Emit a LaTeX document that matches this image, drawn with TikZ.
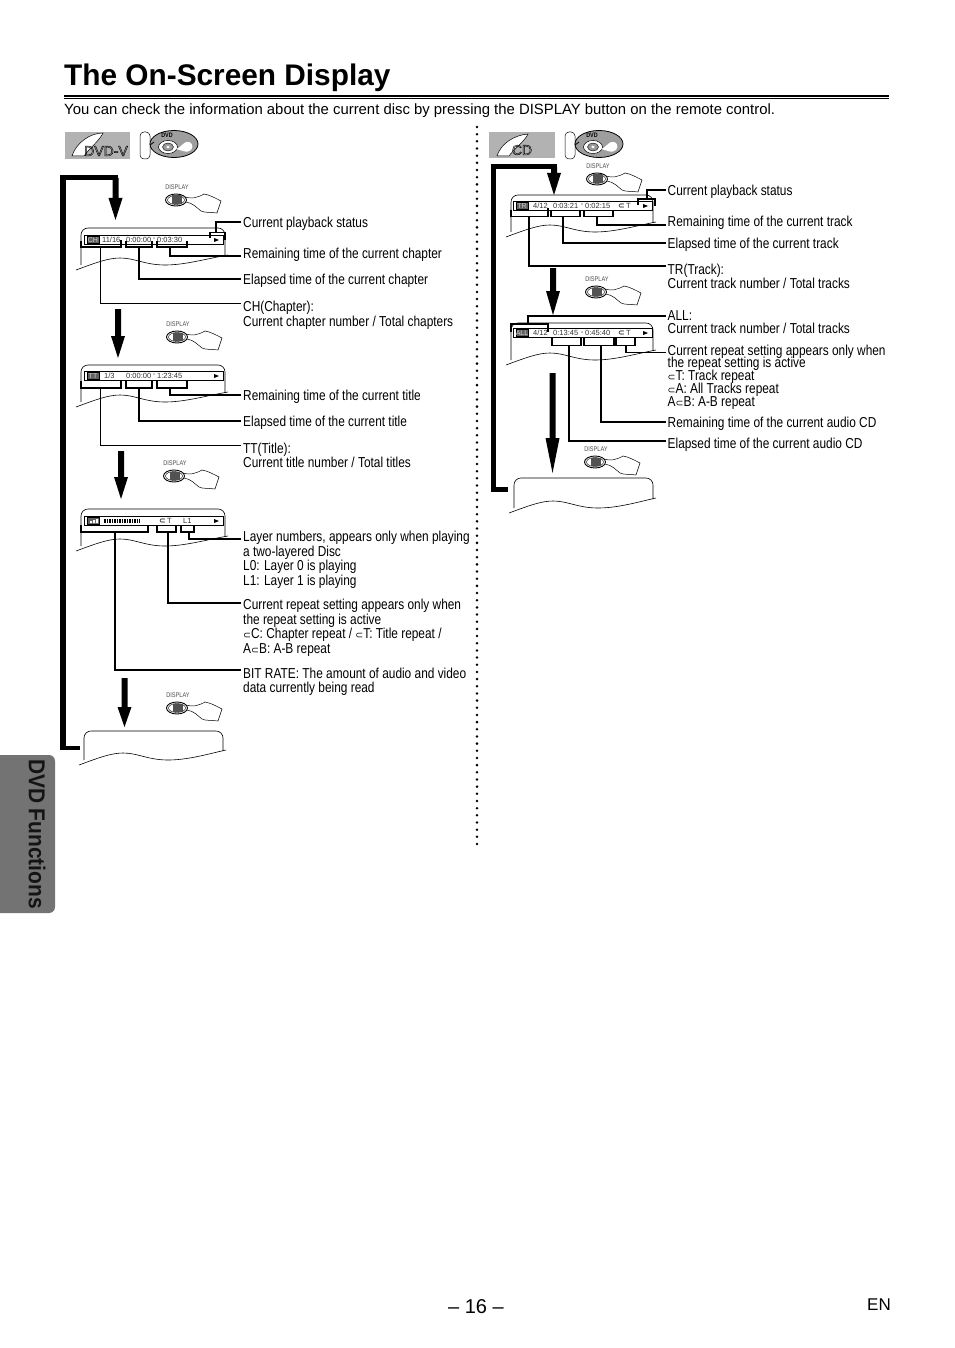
\documentclass[tikz,border=0pt]{standalone}
\usepackage{fontspec}
\setmainfont{Liberation Sans}
\newfontfamily\labelfont[FakeStretch=0.825]{Liberation Sans}
\newfontfamily\tabfont[FakeStretch=0.91]{Liberation Sans}
\newfontfamily\symfont{DejaVu Sans}
\usetikzlibrary{calc}
\def\rpt{{\symfont\fontsize{9.5}{8}\selectfont ⊂}}
\def\rptsm{{\symfont\bfseries\fontsize{8}{8}\selectfont ⊂}}
\def\hollow#1{\special{pdf:code 1 Tr 0.45 w}#1\special{pdf:code 0 Tr}}
\tikzset{
	lbl/.style={anchor=west, yshift=-1.5pt, inner xsep=2pt, inner ysep=0pt, align=left, font=\labelfont\fontsize{14.4}{14.6}\selectfont},
	lblm/.style={lbl, anchor=north west},
	lead/.style={line width=1.3pt},
	thinlead/.style={line width=0.9pt},
	brk/.style={line width=1.3pt},
	osd/.style={inner sep=0pt, font=\fontsize{7.5}{8}\selectfont, text=black!80},
	osdtag/.style={inner sep=0pt, font=\fontsize{7}{8}\selectfont, text=black!20},
	disp/.style={inner sep=0pt, font=\labelfont\fontsize{6.8}{7}\selectfont, text=black!70}
}
% screen outline, x0 and top, width, height of the left side
\def\osdshape(#1,#2,#3,#4){
	\begin{scope}[shift={(#1,#2)}]
		\draw[line width=0.6pt, rounded corners=7pt] (0, #4) -- (0, 0) -- (#3, 0) -- (#3, #4-9);
		\draw[line width=0.6pt] (-5, #4+5) .. controls (14, #4-2) and (27, #4-7) .. (39, #4-7) .. controls (54, #4-7) and (64, #4) .. (84, #4) .. controls (104, #4) and (124, #4-6) .. (#3+3, #4-10);
	\end{scope}
}
% text bar inside the screen
\def\osdbar(#1,#2,#3,#4){
	\draw[line width=0.7pt, fill=white] (#1, #2) rectangle (#3, #2+9.5);
	\draw[fill=black!62, draw=black] (#1+3, #2+1.5) rectangle (#1+15, #2+8);
	\node[osdtag] (#4) at (#1+9, #2+4.8) {#4};
	\fill[black] (#3-9, #2+3) -- (#3-4, #2+5) -- (#3-9, #2+7) -- cycle;
}
% thick down arrow: x, shaft start, head start, tip
\def\bigarr(#1,#2,#3,#4){
	\fill[black] (#1-3, #2) -- (#1+3, #2) -- (#1+3, #3) -- (#1+7, #3) -- (#1, #4) -- (#1-7, #3) -- (#1-3, #3) -- cycle;
}
% hand on the display button, x y of the word
\def\pressbtn(#1,#2,#3){
	\begin{scope}[shift={(#1,#2)}]
		\node[disp] (#3) at (0, 0) {DISPLAY};
		\draw[line width=0.5pt] (8, 10) .. controls (14, 12) and (20, 11) .. (27, 7) .. controls (33, 8) and (38, 11) .. (44, 14) -- (40, 26) .. controls (34, 25) and (28, 26) .. (24, 24) .. controls (20, 21) and (16, 16) .. (9, 15);
		\draw[line width=0.9pt, fill=white] (-1, 13) ellipse (10.5 and 6);
		\draw[line width=0.4pt] (-1, 13) ellipse (8.5 and 4.5);
		\fill[black!68] (-5, 8.5) rectangle (5, 17);
	\end{scope}
}
% remote with the disc mark
\def\discicon(#1,#2){
	\begin{scope}[shift={(#1,#2)}]
		\draw[line width=0.5pt, rounded corners=4pt] (0, 0) rectangle (10, 27);
		\draw[line width=0.8pt, fill=black!38] (34, 12) ellipse (24 and 13.5);
		\draw[line width=0.8pt] (10, 13) -- (14, 10);
		\draw[line width=0.5pt, fill=white] (28, 15) ellipse (9.5 and 6.5);
		\draw[line width=0.4pt, fill=black!40] (28, 15) ellipse (5.5 and 4);
		\fill[white] (28, 15) ellipse (1.8 and 1.3);
		\fill[white] (36, 17) .. controls (40, 16) and (42, 12) .. (46, 10) .. controls (52, 9) and (54, 14) .. (51, 18) .. controls (46, 22) and (42, 18) .. (36, 17) -- cycle;
	\end{scope}
}

\begin{document}
\begin{tikzpicture}[x=1pt, y=-1pt]
	\useasboundingbox (0, 0) rectangle (954, 1348);
	%%%%% HEADER %%%%%
	\node[anchor=base west, inner sep=0pt, font=\bfseries\fontsize{29.8}{32}\selectfont] (title) at (64, 86) {The On-Screen Display};
	\fill[black] (64, 94.7) rectangle (889, 97.2);
	\fill[black] (64, 98.1) rectangle (889, 98.8);
	\node[anchor=base west, inner sep=0pt, font=\fontsize{14.87}{15}\selectfont] (intro) at (64, 115) {You can check the information about the current disc by pressing the DISPLAY button on the remote control.};

	%%%%% SIDE TAB AND PAGE NUMBER %%%%%
	\fill[black!55, rounded corners=6pt] (-10, 755) rectangle (55, 913);
	\node[rotate=-90, inner sep=0pt, text=black!92, font=\tabfont\bfseries\fontsize{23}{25}\selectfont] (tab) at (37, 834) {DVD Functions};
	\node[inner sep=0pt, font=\fontsize{20}{21}\selectfont] (pagenum) at (476, 1307) {– 16 –};
	\node[inner sep=0pt, font=\fontsize{17}{18}\selectfont] (lang) at (879, 1305) {EN};

	%%%%% MIDDLE DOTS %%%%%
	\draw[line width=2.8pt, line cap=round, dash pattern=on 0pt off 7.17pt] (477, 127) -- (477, 845);

	%%%%% DVD-V %%%%%
	\fill[black!30] (65, 132) rectangle (130, 159);
	\draw[line width=0.5pt, fill=white] (72, 156) .. controls (76, 143) and (90, 133) .. (103, 133) .. controls (100, 140) and (88, 150) .. (84, 156) -- cycle;
	\node[inner sep=0pt, font=\fontsize{14}{14}\selectfont] (dvdv) at (106, 151) {\hollow{DVD-V}};
	\discicon(140, 132);
	\node[inner sep=0pt, font=\bfseries\labelfont\fontsize{6.5}{7}\selectfont] (dvdmarkA) at (167, 135.5) {DVD};

	% loop on the left
	\fill[black] (60, 175) rectangle (118, 180);
	\fill[black] (60, 175) rectangle (65.5, 750);
	\fill[black] (60, 745.5) rectangle (80, 750);
	\bigarr(115.5, 178, 198, 220);
	\bigarr(118, 309, 336, 358);
	\bigarr(121, 451, 477, 499);
	\bigarr(124.5, 678, 707, 727);
	\pressbtn(177, 187, dispA);
	\pressbtn(178, 324, dispB);
	\pressbtn(175, 463, dispC);
	\pressbtn(178, 695, dispD);

	% first screen, chapter
	\osdshape(81, 228, 144, 37);
	\osdbar(84, 235, 223, CH);
	\node[osd, anchor=west] (chcnt) at (102, 239.8) {11/16};
	\node[osd, anchor=west] (chel) at (126, 239.8) {0:00:00};
	\node[osd] (chdash) at (154, 239.8) {-};
	\node[osd, anchor=west] (chrem) at (157, 239.8) {0:03:30};
	\draw[brk] (81, 241) |- (121, 247) -- (121, 240);
	\draw[brk] (126, 241) |- (152, 247) -- (152, 241);
	\draw[brk] (157, 241) |- (187, 247) -- (187, 241);
	\draw[brk] (210, 238) |- (225, 232.7) -- (225, 240);
	\coordinate (chStat) at (216, 232.7);
	\coordinate (chRemB) at (170, 247);
	\coordinate (chElB) at (139, 247);
	\coordinate (chCntB) at (100, 247);
	\node[lbl] (lblStatA) at (241, 222) {Current playback status};
	\node[lbl] (lblRemA) at (241, 253) {Remaining time of the current chapter};
	\node[lbl] (lblElA) at (241, 279) {Elapsed time of the current chapter};
	\node[lblm] (lblChA) at (241, 299.5) {CH(Chapter):\\Current chapter number / Total chapters};
	\draw[lead] ([yshift=1.5pt]lblStatA.west) -| (chStat);
	\draw[lead] ([yshift=-1.5pt]lblRemA.west) -| (chRemB);
	\draw[lead] ([yshift=1.5pt]lblElA.west) -| (chElB);
	\draw[thinlead] ([yshift=-2pt]lblChA.north west) -| (chCntB);

	% second screen, title
	\osdshape(81, 365, 144, 37);
	\osdbar(84, 371, 223, TT);
	\node[osd, anchor=west] (ttcnt) at (104, 375.8) {1/3};
	\node[osd, anchor=west] (ttel) at (126, 375.8) {0:00:00};
	\node[osd] (ttdash) at (154, 375.8) {-};
	\node[osd, anchor=west] (ttrem) at (157, 375.8) {1:23:45};
	\draw[brk] (81, 381) |- (121, 388) -- (121, 381);
	\draw[brk] (126, 381) |- (152, 388) -- (152, 381);
	\draw[brk] (157, 381) |- (187, 388) -- (187, 381);
	\coordinate (ttRemB) at (170, 388);
	\coordinate (ttElB) at (139, 388);
	\coordinate (ttCntB) at (100, 388);
	\node[lbl] (lblRemB) at (241, 395) {Remaining time of the current title};
	\node[lbl] (lblElB) at (241, 421) {Elapsed time of the current title};
	\node[lblm] (lblTtB) at (241, 441) {TT(Title):\\Current title number / Total titles};
	\draw[lead] ([yshift=1.5pt]lblRemB.west) -| (ttRemB);
	\draw[lead] ([yshift=1.5pt]lblElB.west) -| (ttElB);
	\draw[thinlead] ([yshift=-2.5pt]lblTtB.north west) -| (ttCntB);

	% third screen, bit rate
	\osdshape(81, 509, 144, 37);
	\osdbar(84, 516, 223, {});
	\fill[white] (90, 523) rectangle (92, 521) (93, 523) rectangle (95, 520) (96, 523) rectangle (98, 519);
	\draw[line width=4.5pt, dash pattern=on 1.5pt off 1pt, black] (104, 520.8) -- (140, 520.8);
	\node[osd, anchor=west] (brrpt) at (159, 520.5) {\rptsm\,T};
	\node[osd, anchor=west] (brlay) at (183, 520.5) {L1};
	\draw[brk] (81, 525) |- (148, 532) -- (148, 525);
	\draw[brk] (157, 525) |- (176, 532) -- (176, 525);
	\draw[brk] (181, 525) |- (194, 532) -- (194, 525);
	\coordinate (brLayB) at (189, 532);
	\coordinate (brRptB) at (168, 532);
	\coordinate (brRateB) at (115, 532);
	\node[lblm] (lblLayC) at (241, 529.5) {Layer numbers, appears only when playing\\a two-layered Disc\\L0: Layer 0 is playing\\L1: Layer 1 is playing};
	\node[lblm] (lblRptC) at (241, 597.5) {Current repeat setting appears only when\\the repeat setting is active\\\rpt C: Chapter repeat / \rpt T: Title repeat /\\A\rpt B: A-B repeat};
	\node[lblm] (lblRateC) at (241, 666) {BIT RATE: The amount of audio and video\\data currently being read};
	\draw[lead] ([yshift=-8pt]lblLayC.north west) -| (brLayB);
	\draw[lead] ([yshift=-4pt]lblRptC.north west) -| (brRptB);
	\draw[lead] ([yshift=-2.5pt]lblRateC.north west) -| (brRateB);

	% blank screen
	\osdshape(84, 731, 139, 29);

	%%%%% CD %%%%%
	\fill[black!30] (489, 132) rectangle (555, 158);
	\draw[line width=0.5pt, fill=white] (497, 156) .. controls (501, 143) and (515, 135) .. (528, 134) .. controls (525, 141) and (513, 150) .. (509, 156) -- cycle;
	\node[inner sep=0pt, font=\fontsize{14}{14}\selectfont] (cdtag) at (522, 150) {\hollow{CD}};
	\discicon(565, 132);
	\node[inner sep=0pt, font=\bfseries\labelfont\fontsize{6.5}{7}\selectfont] (dvdmarkB) at (592, 135.5) {DVD};

	% loop on the right
	\fill[black] (491, 164) rectangle (557, 169.5);
	\fill[black] (491, 164) rectangle (496, 492);
	\fill[black] (491, 487) rectangle (508, 492);
	\bigarr(554, 167, 173, 195);
	\bigarr(553, 268, 291, 315);
	\bigarr(552.5, 373, 438, 473);
	\pressbtn(598, 166, dispE);
	\pressbtn(597, 279, dispF);
	\pressbtn(596, 449, dispG);

	% first screen, track
	\osdshape(511, 195, 142, 37);
	\osdbar(513, 201, 652, TR);
	\node[osd, anchor=west] (trcnt) at (533, 205.5) {4/12};
	\node[osd, anchor=west] (trel) at (553, 205.5) {0:03:21};
	\node[osd] (trdash) at (582, 205.5) {-};
	\node[osd, anchor=west] (trrem) at (585, 205.5) {0:02:15};
	\node[osd, anchor=west] (trrpt) at (618, 205.5) {\rptsm\,T};
	\draw[brk] (511, 210) |- (548, 216.7) -- (548, 208);
	\draw[brk] (551, 210) |- (580, 216.7) -- (580, 210);
	\draw[brk] (584, 210) |- (613, 216.7) -- (613, 210);
	\draw[brk] (638, 205) |- (655, 199) -- (655, 206);
	\coordinate (trStat) at (647, 199);
	\coordinate (trRemB) at (597, 216.7);
	\coordinate (trElB) at (563, 216.7);
	\coordinate (trCntB) at (529, 216.7);
	\node[lbl] (lblStatE) at (665.5, 190) {Current playback status};
	\node[lbl] (lblRemE) at (665.5, 221) {Remaining time of the current track};
	\node[lbl] (lblElE) at (665.5, 243) {Elapsed time of the current track};
	\node[lblm] (lblTrE) at (665.5, 262) {TR(Track):\\Current track number / Total tracks};
	\draw[lead] ([yshift=1.5pt]lblStatE.west) -| (trStat);
	\draw[lead] ([yshift=-2.5pt]lblRemE.west) -| (trRemB);
	\draw[lead] ([yshift=1.5pt]lblElE.west) -| (trElB);
	\draw[lead] ([yshift=-2.5pt]lblTrE.north west) -| (trCntB);

	% second screen, all tracks
	\osdshape(511, 323, 142, 37);
	\osdbar(513, 328, 652, ALL);
	\node[osd, anchor=west] (alcnt) at (533, 333) {4/12};
	\node[osd, anchor=west] (alel) at (553, 333) {0:13:45};
	\node[osd] (aldash) at (582, 333) {-};
	\node[osd, anchor=west] (alrem) at (585, 333) {0:45:40};
	\node[osd, anchor=west] (alrpt) at (618, 333) {\rptsm\,T};
	\draw[brk] (511, 332) |- (548, 324) -- (548, 332);
	\draw[brk] (552, 338) |- (581, 345.7) -- (581, 338);
	\draw[brk] (584, 338) |- (614, 345.7) -- (614, 338);
	\draw[brk] (616, 338) |- (635, 345.7) -- (635, 338);
	\coordinate (alCntT) at (528, 324);
	\coordinate (alRptB) at (626, 345.7);
	\coordinate (alRemB) at (601, 345.7);
	\coordinate (alElB) at (569, 345.7);
	\node[lblm] (lblAllF) at (665.5, 308.5) {ALL:\\[-1pt]Current track number / Total tracks};
	\node[lblm] (lblRptF) at (665.5, 343) {Current repeat setting appears only when\\[-1.8pt]the repeat setting is active\\[-1.8pt]\rpt T: Track repeat\\[-1.8pt]\rpt A: All Tracks repeat\\[-1.8pt]A\rpt B: A-B repeat};
	\node[lbl] (lblRemF) at (665.5, 422) {Remaining time of the current audio CD};
	\node[lbl] (lblElF) at (665.5, 443) {Elapsed time of the current audio CD};
	\draw[lead] ([yshift=-6pt]lblAllF.north west) -| (alCntT);
	\draw[lead] ([yshift=-8pt]lblRptF.north west) -| (alRptB);
	\draw[lead] ([yshift=1.5pt]lblRemF.west) -| (alRemB);
	\draw[lead] ([yshift=3.5pt]lblElF.west) -| (alElB);

	% blank screen
	\osdshape(514, 478, 139, 30);
\end{tikzpicture}
\end{document}
